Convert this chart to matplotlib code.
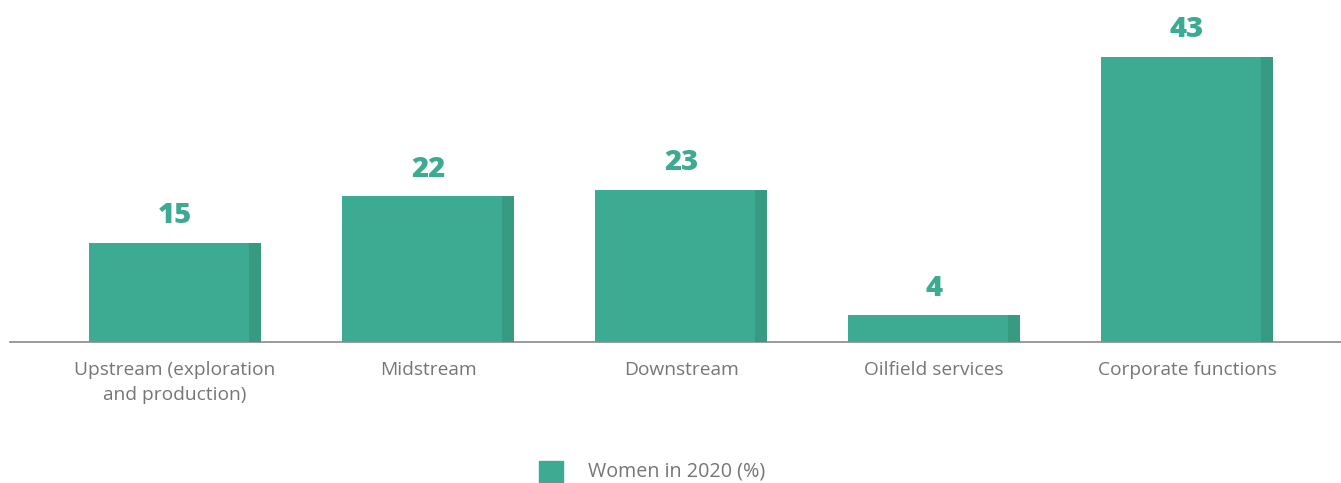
import matplotlib
matplotlib.use("Agg")
import matplotlib.pyplot as plt
from matplotlib.patches import Rectangle

categories = ["Upstream (exploration\nand production)", "Midstream", "Downstream",
              "Oilfield services", "Corporate functions"]
values = [15, 22, 23, 4, 43]
legend_label = "Women in 2020 (%)"

GREEN = "#3dab91"
DARK = "#379b81"
GREY = "#767676"

plt.rcParams["font.family"] = ["Open Sans", "DejaVu Sans"]

W, H = 1341, 483
fig = plt.figure(figsize=(W / 100, H / 100), dpi=100)

# pixel geometry of the reference
step_px = 253.0
first_px = 175.0
base_px = 342.0
unit_px = 6.63
ymax = 47

ax = fig.add_axes([10 / W, (H - base_px) / H, (W - 10) / W, ymax * unit_px / H])
ax.set_xlim((10 - first_px) / step_px, (W - first_px) / step_px)
ax.set_ylim(0, ymax)

width = 172 / step_px
strip = 12 / step_px
x = list(range(len(values)))
ax.bar(x, values, width=width, color=GREEN, zorder=2)
for xi, v in zip(x, values):
    ax.add_patch(Rectangle((xi + width / 2 - strip, 0), strip, v, color=DARK, lw=0, zorder=3))
    ax.annotate(str(v), (xi, v), xytext=(0, 9), textcoords="offset points",
                ha="center", va="bottom", fontsize=21, fontweight=800, color=GREEN)

for s in ["top", "left", "right"]:
    ax.spines[s].set_visible(False)
ax.spines["bottom"].set_color("#8a8a8a")
ax.spines["bottom"].set_linewidth(1.2)
ax.set_yticks([])
ax.set_xticks(x)
ax.set_xticklabels(categories, fontsize=13.8, color=GREY, linespacing=1.45)
ax.tick_params(axis="x", length=0, pad=14)

# legend
fig.patches.append(Rectangle((539 / W, (H - 483) / H), 24 / W, 22 / H,
                             transform=fig.transFigure, color=GREEN))
fig.text(588 / W, (H - 471) / H, legend_label, fontsize=14.2, color=GREY,
         ha="left", va="center")

fig.savefig("out.png", dpi=100)
